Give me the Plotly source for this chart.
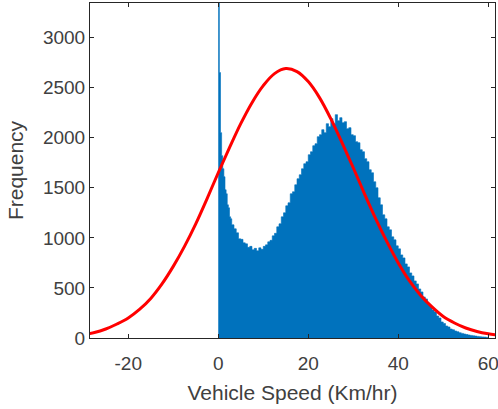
import plotly.graph_objects as go

# Histogram bin left edges (km/hr) and counts
bin_edges = [0, 0.25, 0.5, 0.75, 1.0, 1.25, 1.5, 1.75, 2.0, 2.25, 2.5, 2.75,
             3.0, 3.5, 4.0, 4.5, 5.0, 5.5, 6.0, 6.5, 7.0, 7.5, 8.0, 8.5, 9.0, 9.5,
             10.0, 10.5, 11.0, 11.5, 12.0, 12.5, 13.0, 13.5, 14.0, 14.5, 15.0, 15.5,
             16.0, 16.5, 17.0, 17.5, 18.0, 18.5, 19.0, 19.5, 20.0, 20.5, 21.0, 21.5,
             22.0, 22.5, 23.0, 23.5, 24.0, 24.5, 25.0, 25.5, 26.0, 26.5, 27.0, 27.5,
             28.0, 28.5, 29.0, 29.5, 30.0, 30.5, 31.0, 31.5, 32.0, 32.5, 33.0, 33.5,
             34.0, 34.5, 35.0, 35.5, 36.0, 36.5, 37.0, 37.5, 38.0, 38.5, 39.0, 39.5,
             40.0, 40.5, 41.0, 41.5, 42.0, 42.5, 43.0, 43.5, 44.0, 44.5, 45.0, 45.5,
             46.0, 46.5, 47.0, 47.5, 48.0, 48.5, 49.0, 49.5, 50.0, 50.5, 51.0, 51.5,
             52.0, 52.5, 53.0, 53.5, 54.0, 54.5, 55.0, 55.5, 56.0, 56.5, 57.0, 57.5,
             58.0, 58.5, 59.0, 59.5, 60.0]
bin_counts = [3400, 2650, 2050, 1820, 1690, 1610, 1480, 1440, 1330, 1300, 1210, 1190,
              1130, 1090, 1050, 990, 985, 950, 940, 905, 915, 880, 895, 870, 900, 885,
              915, 930, 960, 975, 1020, 1045, 1110, 1140, 1210, 1250, 1320, 1350,
              1440, 1460, 1530, 1590, 1630, 1690, 1740, 1760, 1830, 1860, 1920, 1940,
              2010, 2030, 2080, 2050, 2140, 2110, 2190, 2140, 2230, 2170, 2200, 2150,
              2160, 2090, 2100, 2030, 2020, 1960, 1950, 1880, 1860, 1790, 1760, 1680,
              1650, 1560, 1500, 1400, 1330, 1230, 1190, 1110, 1080, 1010, 980, 920,
              890, 830, 800, 740, 710, 650, 620, 570, 540, 490, 460, 410,
              390, 340, 320, 280, 260, 220, 200, 160, 145, 120, 110, 90,
              82, 70, 62, 52, 46, 40, 35, 30, 26, 22, 19, 16,
              13, 11, 9, 7]

# Fitted curve points
fit_x = [-30, -27.5, -25, -22.5, -20, -17.5, -15, -12.5, -10, -7.5, -5, -2.5, 0,
         2.5, 5, 7.5, 10, 12.5, 15, 17.5, 20, 22.5, 25, 27.5, 30, 32.5, 35, 37.5,
         40, 42.5, 45, 47.5, 50, 52.5, 55, 57.5, 60, 62.5]
fit_y = [35, 55, 90, 140, 200, 285, 395, 540, 715, 915, 1140, 1390, 1650,
         1900, 2140, 2350, 2520, 2640, 2690, 2660, 2560, 2400, 2190, 1950, 1700, 1440, 1190, 960,
         750, 570, 425, 310, 215, 150, 100, 65, 42, 27]

x_ticks = [-20, 0, 20, 40, 60]
y_ticks = [0, 500, 1000, 1500, 2000, 2500, 3000]

FONT = "Liberation Sans, Arial, Helvetica, sans-serif"
TEXT = "#404040"

fig = go.Figure()
fig.add_trace(go.Scatter(
    x=bin_edges, y=bin_counts + [bin_counts[-1]],
    mode="lines", line=dict(shape="hv", width=0.6, color="#0072BD"),
    fill="tozeroy", fillcolor="#0072BD", hoverinfo="skip", showlegend=False))
fig.add_trace(go.Scatter(
    x=fit_x, y=fit_y, mode="lines", line=dict(shape="spline", width=3, color="#FF0000"),
    showlegend=False))

axis_common = dict(
    showgrid=False, zeroline=False, showline=True, linecolor="#262626", linewidth=1,
    mirror="ticks", ticks="inside", ticklen=4, tickcolor="#262626", tickwidth=1,
    tickfont=dict(family=FONT, size=19, color=TEXT),
    automargin=False, ticklabeloverflow="allow",
)
fig.update_xaxes(range=[-28.5, 61.5], tickvals=x_ticks, ticktext=[str(v) for v in x_ticks],
                 ticklabelstandoff=8,
                 title=dict(text="Vehicle Speed (Km/hr)", standoff=12,
                            font=dict(family=FONT, size=21, color=TEXT)),
                 **axis_common)
fig.update_yaxes(range=[0, 3345], tickvals=y_ticks, ticktext=[str(v) for v in y_ticks],
                 title=dict(text="Frequency", standoff=13,
                            font=dict(family=FONT, size=21, color=TEXT)),
                 **axis_common)
fig.update_layout(
    width=498, height=409, margin=dict(l=90, r=3, t=3, b=71),
    plot_bgcolor="white", paper_bgcolor="white",
)
fig.write_html("out.html", config={"displayModeBar": False},
               post_script="document.body.style.margin='0px';document.body.style.overflow='hidden';")
